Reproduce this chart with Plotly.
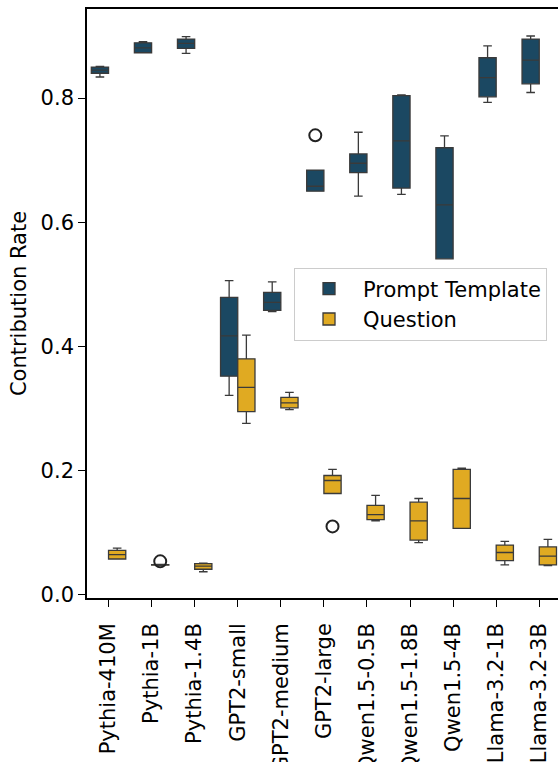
import plotly.graph_objects as go

categories = ["Pythia-410M", "Pythia-1B", "Pythia-1.4B", "GPT2-small", "GPT2-medium",
              "GPT2-large", "Qwen1.5-0.5B", "Qwen1.5-1.8B", "Qwen1.5-4B",
              "Llama-3.2-1B", "Llama-3.2-3B"]

# Prompt Template box statistics
pt_low = [0.834, 0.873, 0.872, 0.321, 0.456, 0.650, 0.642, 0.645, 0.541, 0.793, 0.809]
pt_q1 = [0.840, 0.873, 0.880, 0.352, 0.458, 0.650, 0.680, 0.655, 0.541, 0.802, 0.823]
pt_med = [0.845, 0.881, 0.888, 0.417, 0.471, 0.658, 0.695, 0.731, 0.628, 0.833, 0.861]
pt_q3 = [0.850, 0.889, 0.895, 0.479, 0.487, 0.684, 0.710, 0.804, 0.720, 0.865, 0.895]
pt_high = [0.851, 0.891, 0.899, 0.506, 0.504, 0.684, 0.745, 0.805, 0.739, 0.884, 0.900]
pt_outliers = [[], [], [], [], [], [0.740], [], [], [], [], []]

# Question box statistics
q_low = [0.0575, 0.0472, 0.037, 0.276, 0.298, 0.163, 0.119, 0.084, 0.107, 0.048, 0.047]
q_q1 = [0.0575, 0.0475, 0.041, 0.295, 0.301, 0.163, 0.121, 0.088, 0.107, 0.055, 0.048]
q_med = [0.0645, 0.0480, 0.046, 0.334, 0.309, 0.184, 0.129, 0.119, 0.155, 0.068, 0.062]
q_q3 = [0.0714, 0.0485, 0.050, 0.380, 0.318, 0.192, 0.144, 0.149, 0.202, 0.080, 0.077]
q_high = [0.0752, 0.0490, 0.051, 0.418, 0.326, 0.202, 0.160, 0.155, 0.204, 0.086, 0.089]
q_outliers = [[], [0.0537], [], [], [], [0.110], [], [], [], [], []]

series = [
    ("Prompt Template", "#1b4862", pt_low, pt_q1, pt_med, pt_q3, pt_high, pt_outliers),
    ("Question", "#e0aa22", q_low, q_q1, q_med, q_q3, q_high, q_outliers),
]

fig = go.Figure()
for name, color, lo, q1, med, q3, hi, outs in series:
    samples = [[l, h] + o for l, h, o in zip(lo, hi, outs)]
    fig.add_trace(go.Box(
        name=name,
        x=categories,
        y=samples,
        q1=q1, median=med, q3=q3,
        lowerfence=lo, upperfence=hi,
        boxpoints="outliers",
        pointpos=0, jitter=0,
        fillcolor=color,
        line=dict(color="#3a3a3a", width=1.3),
        whiskerwidth=0.5,
        marker=dict(symbol="circle-open", size=12, color="#222222",
                    line=dict(width=2, color="#222222")),
        hoverinfo="skip",
    ))

font = "DejaVu Sans, sans-serif"
fig.update_layout(
    width=558, height=762,
    margin=dict(l=87, r=0, t=9, b=164, autoexpand=False),
    paper_bgcolor="white", plot_bgcolor="white",
    boxmode="group", boxgap=0.2, boxgroupgap=0,
    font=dict(family=font, size=21, color="black"),
    legend=dict(x=0.4395, y=0.561, xanchor="left", yanchor="top",
                bgcolor="white", bordercolor="#cccccc", borderwidth=1,
                font=dict(size=21), itemwidth=58, tracegroupgap=0),
    showlegend=True,
)
fig.update_xaxes(
    type="category", categoryorder="array", categoryarray=categories,
    range=[-0.5, 10.435],
    tickangle=-90, ticks="outside", ticklen=7, tickwidth=1.4, tickcolor="black",
    ticklabelstandoff=8,
    showline=True, linecolor="black", linewidth=1.6, mirror=True,
    showgrid=False, zeroline=False, automargin=False,
    tickfont=dict(size=21),
)
fig.update_yaxes(
    range=[-0.0053, 0.9435],
    tickvals=[0.0, 0.2, 0.4, 0.6, 0.8], tickformat=".1f",
    ticks="outside", ticklen=7, tickwidth=1.4, tickcolor="black",
    showline=True, linecolor="black", linewidth=1.6, mirror=False,
    showgrid=False, zeroline=False, automargin=False,
    tickfont=dict(size=21),
    title=dict(text="Contribution Rate", font=dict(size=21), standoff=8),
)
fig.write_html("out.html", config={"displayModeBar": False},
               post_script="document.body.style.margin='0px';")
